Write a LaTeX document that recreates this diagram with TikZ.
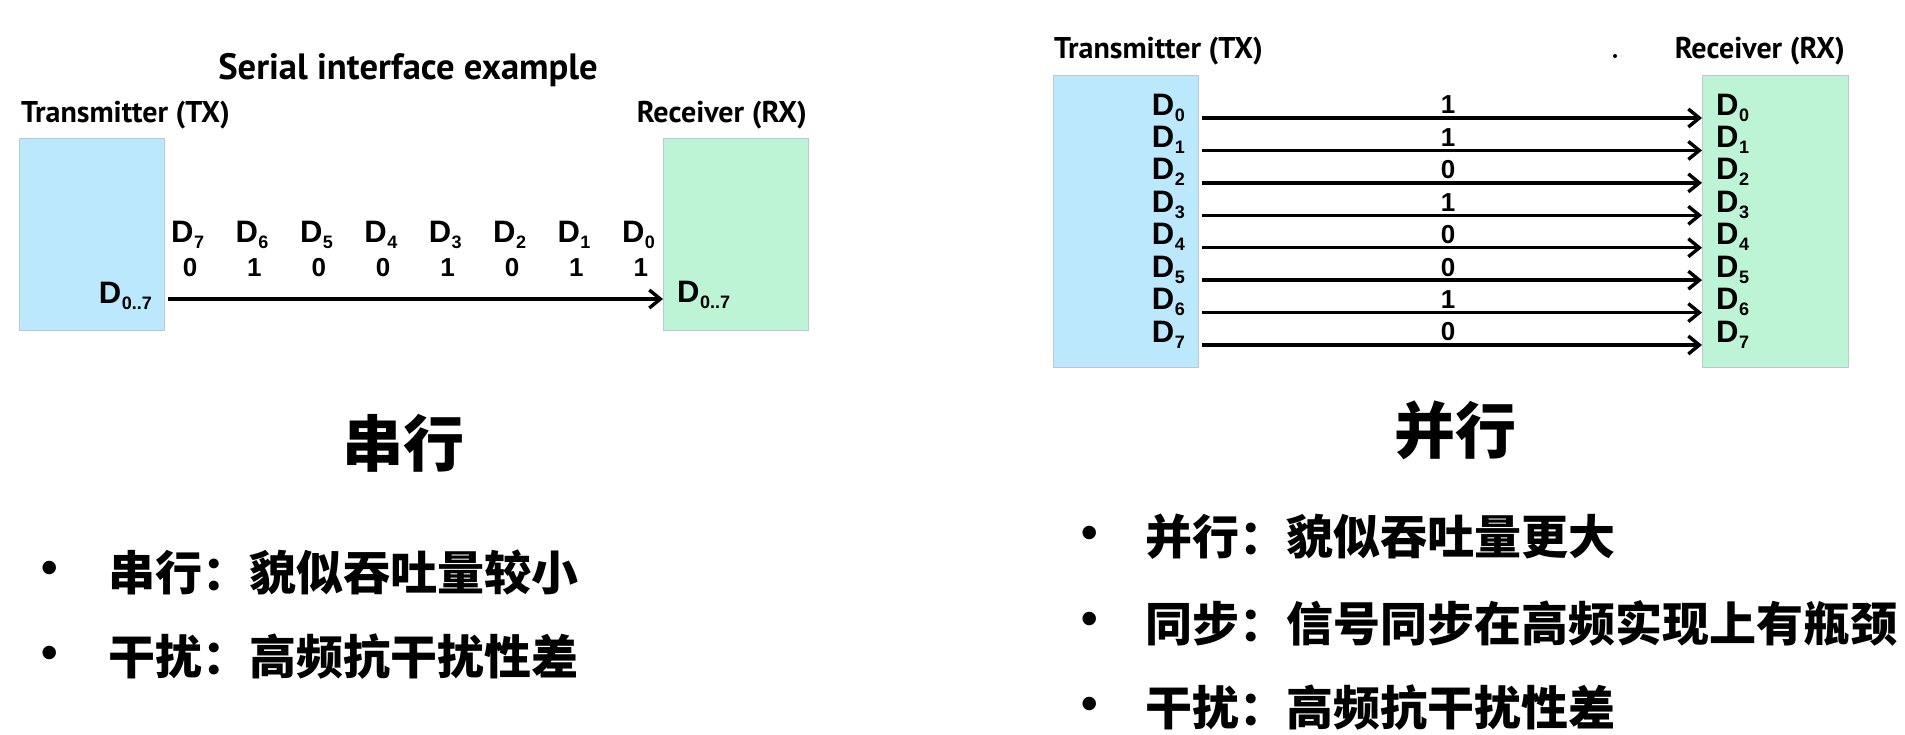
\documentclass[tikz,border=0pt]{standalone}
\usepackage{fontspec}
\setmainfont{PT Sans}
\newfontfamily\cjk{Noto Sans CJK SC}
\newfontfamily\arialbold{Liberation Sans}[UprightFont=* Bold]
\usetikzlibrary{arrows.meta,positioning}
\definecolor{txblue}{RGB}{187,232,252}
\definecolor{rxgreen}{RGB}{189,244,214}
\definecolor{boxline}{RGB}{185,200,210}
% data line label: D with lowered index
\newcommand{\dline}[1]{{\arialbold\fontsize{31}{32}\selectfont D\kern0.5pt\raisebox{-6pt}{\fontsize{18}{19}\selectfont #1}}}

\begin{document}
\begin{tikzpicture}[x=1pt,y=-1pt,
  unit/.style={draw=boxline, line width=1.2pt, anchor=north west, inner sep=0pt},
  title/.style={font=\bfseries\fontsize{36.6}{38}\selectfont, inner sep=0pt},
  lbl/.style={font=\bfseries\fontsize{30}{32}\selectfont, inner sep=0pt},
  dlbl/.style={inner sep=0pt},
  bit/.style={font=\arialbold\fontsize{26}{28}\selectfont, inner sep=0pt},
  wire/.style={line width=3.4pt, -{Straight Barb[length=11pt,width=18pt,line width=3.4pt]}},
  big/.style={font=\cjk\bfseries\fontsize{61}{64}\selectfont, inner sep=0pt},
  dot/.style={font=\arialbold\fontsize{47}{49}\selectfont, inner sep=0pt},
  item/.style={font=\cjk\bfseries\fontsize{47}{50}\selectfont, inner sep=0pt, anchor=west}
]
\useasboundingbox[fill=white] (0,0) rectangle (1905,734);

% Serial interface
\node[title] (stitle) at (408,70) {Serial interface example};
\node[lbl, anchor=west] (stxname) at (21,115) {Transmitter (TX)};
\node[lbl, anchor=east] (srxname) at (807,115) {Receiver (RX)};
\node[unit, fill=txblue, minimum width=145pt, minimum height=192pt] (stx) at (19,138) {};
\node[unit, fill=rxgreen, minimum width=145pt, minimum height=192pt] (srx) at (663,138) {};
\node[dlbl, anchor=base east] (sd) at (152,303) {\dline{0..7}};
\node[dlbl, anchor=base west] (rd) at (677,302) {\dline{0..7}};
\coordinate (sa) at (168,299);
\draw[wire] (sa) -- (srx.west |- sa);
\foreach \k/\b [count=\j from 0] in {7/0,6/1,5/0,4/0,3/1,2/0,1/1,0/1} {
  \node[dlbl, anchor=base west] (sbit\k) at (171+64.4*\j,242) {\dline{\k}};
  \node[bit] (sval\k) at (190+64.4*\j,268) {\b};
}

\node[big] (serial) at (403,443) {串行};
\node[dot] (sb1) at (50,572) {•};
\node[item] (st1) at (108,572) {串行：貌似吞吐量较小};
\node[dot] (sb2) at (50,657) {•};
\node[item] (st2) at (108,657) {干扰：高频抗干扰性差};

% Parallel interface
\fill (1615,56) circle (2);
\node[lbl, anchor=west] (ptxname) at (1054,51) {Transmitter (TX)};
\node[lbl, anchor=east] (prxname) at (1845,51) {Receiver (RX)};
\node[unit, fill=txblue, minimum width=145pt, minimum height=292pt] (ptx) at (1053,75) {};
\node[unit, fill=rxgreen, minimum width=146pt, minimum height=292pt] (prx) at (1702,75) {};
\foreach \i/\b in {0/1,1/1,2/0,3/1,4/0,5/0,6/1,7/0} {
  \node[dlbl, anchor=base east] (ptx\i) at (1185,115+32.43*\i) {\dline{\i}};
  \node[dlbl, anchor=base west] (prx\i) at (1716,115+32.43*\i) {\dline{\i}};
  \coordinate (pa\i) at (1202,118+32.43*\i);
  \draw[wire] (pa\i) -- (prx.west |- pa\i);
  \node[bit] (pval\i) at (1448,105+32.43*\i) {\b};
}

\node[big] (parallel) at (1455,430) {并行};
\node[dot] (pb1) at (1090,537) {•};
\node[item] (pt1) at (1145,537) {并行：貌似吞吐量更大};
\node[dot] (pb2) at (1090,623) {•};
\node[item] (pt2) at (1145,623) {同步：信号同步在高频实现上有瓶颈};
\node[dot] (pb3) at (1090,708) {•};
\node[item] (pt3) at (1145,708) {干扰：高频抗干扰性差};
\end{tikzpicture}
\end{document}
